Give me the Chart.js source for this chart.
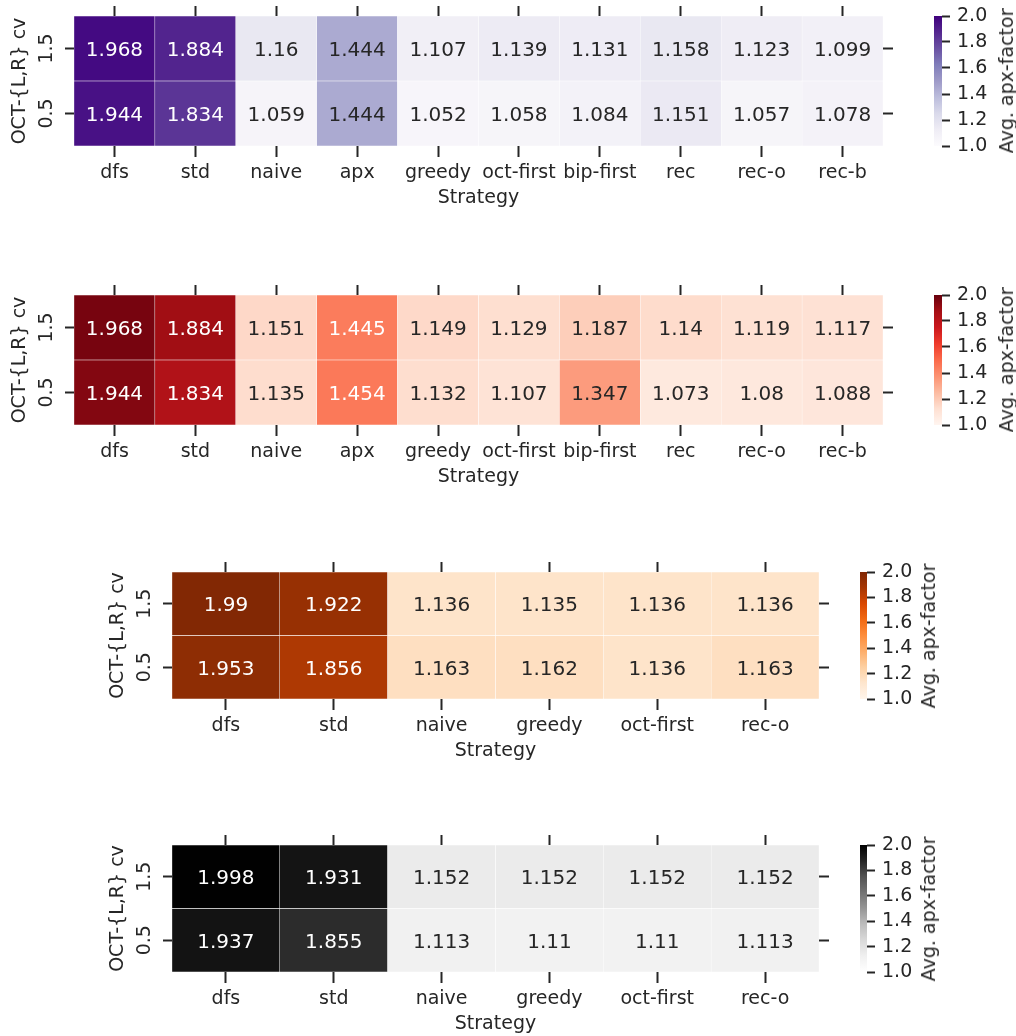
<!DOCTYPE html>
<html>
<head>
<meta charset="utf-8">
<script src="https://cdn.jsdelivr.net/npm/chart.js@4.4.0/dist/chart.umd.min.js"></script>
<style>
body { margin: 0; background: #ffffff; }
#page { position: relative; width: 1016px; height: 1036px; overflow: hidden; }
#page canvas { position: absolute; }
.cbtitle {
    position: absolute;
    font: 19px "DejaVu Sans";
    color: #262626;
    white-space: nowrap;
    transform: translate(-50%, -50%) rotate(-90deg);
}
</style>
</head>
<body>
<div id="page"></div>
<script>
// categories
let strategiesWide = ["dfs", "std", "naive", "apx", "greedy", "oct-first", "bip-first", "rec", "rec-o", "rec-b"];
let strategiesNarrow = ["dfs", "std", "naive", "greedy", "oct-first", "rec-o"];
let cvLevels = ["0.5", "1.5"]; // bottom row first

// values (avg. apx-factor)
let purples05 = [1.944, 1.834, 1.059, 1.444, 1.052, 1.058, 1.084, 1.151, 1.057, 1.078];
let purples15 = [1.968, 1.884, 1.16, 1.444, 1.107, 1.139, 1.131, 1.158, 1.123, 1.099];
let reds05 = [1.944, 1.834, 1.135, 1.454, 1.132, 1.107, 1.347, 1.073, 1.08, 1.088];
let reds15 = [1.968, 1.884, 1.151, 1.445, 1.149, 1.129, 1.187, 1.14, 1.119, 1.117];
let oranges05 = [1.953, 1.856, 1.163, 1.162, 1.136, 1.163];
let oranges15 = [1.99, 1.922, 1.136, 1.135, 1.136, 1.136];
let greys05 = [1.937, 1.855, 1.113, 1.11, 1.11, 1.113];
let greys15 = [1.998, 1.931, 1.152, 1.152, 1.152, 1.152];

// colorbar range
let cbMin = 1.0;
let cbMax = 2.0;
let cbStep = 0.2;

// matplotlib sequential colormaps (ColorBrewer 9 steps)
let purplesMap = ["#fcfbfd", "#efedf5", "#dadaeb", "#bcbddc", "#9e9ac8", "#807dba", "#6a51a3", "#54278f", "#3f007d"];
let redsMap = ["#fff5f0", "#fee0d2", "#fcbba1", "#fc9272", "#fb6a4a", "#ef3b2c", "#cb181d", "#a50f15", "#67000d"];
let orangesMap = ["#fff5eb", "#fee6ce", "#fdd0a2", "#fdae6b", "#fd8d3c", "#f16913", "#d94801", "#a63603", "#7f2704"];
let greysMap = ["#ffffff", "#f0f0f0", "#d9d9d9", "#bdbdbd", "#969696", "#737373", "#525252", "#252525", "#000000"];

let panels = [
    { strategies: strategiesWide, rows: [purples05, purples15], cmap: purplesMap,
      left: 74, right: 883, top: 16, bottom: 146, cbLeft: 934, cbRight: 942, cbTitleX: 1006 },
    { strategies: strategiesWide, rows: [reds05, reds15], cmap: redsMap,
      left: 74, right: 883, top: 295, bottom: 425, cbLeft: 934, cbRight: 942, cbTitleX: 1006 },
    { strategies: strategiesNarrow, rows: [oranges05, oranges15], cmap: orangesMap,
      left: 172, right: 819, top: 572, bottom: 699, cbLeft: 860, cbRight: 867, cbTitleX: 928 },
    { strategies: strategiesNarrow, rows: [greys05, greys15], cmap: greysMap,
      left: 172, right: 819, top: 845, bottom: 972, cbLeft: 860, cbRight: 867, cbTitleX: 928 }
];

let ink = "#262626";
Chart.defaults.font.family = "'DejaVu Sans'";
Chart.defaults.font.size = 19;
Chart.defaults.color = ink;

let page = document.getElementById("page");

function hexToRgb(h) {
    return [parseInt(h.substr(1, 2), 16), parseInt(h.substr(3, 2), 16), parseInt(h.substr(5, 2), 16)];
}

function cmapColor(cmap, v) {
    let t = (v - cbMin) / (cbMax - cbMin);
    t = Math.max(0, Math.min(1, t));
    let pos = t * (cmap.length - 1);
    let i = Math.min(Math.floor(pos), cmap.length - 2);
    let f = pos - i;
    let a = hexToRgb(cmap[i]);
    let b = hexToRgb(cmap[i + 1]);
    return [0, 1, 2].map(function (k) { return a[k] + (b[k] - a[k]) * f; });
}

function toCss(rgb) {
    return "rgb(" + rgb.map(Math.round).join(",") + ")";
}

// same rule as seaborn's annotation colour
function luminance(rgb) {
    let lin = rgb.map(function (c) {
        c = c / 255;
        return c <= 0.03928 ? c / 12.92 : Math.pow((c + 0.055) / 1.055, 2.4);
    });
    return 0.2126 * lin[0] + 0.7152 * lin[1] + 0.0722 * lin[2];
}

function makeCanvas(left, top, width, height) {
    let c = document.createElement("canvas");
    c.width = width;
    c.height = height;
    c.style.left = left + "px";
    c.style.top = top + "px";
    c.style.width = width + "px";
    c.style.height = height + "px";
    page.appendChild(c);
    return c.getContext("2d");
}

// Cell values
let cellLabels = {
    id: "cellLabels",
    afterDatasetsDraw: function (chart) {
        let g = chart.ctx;
        g.save();
        g.font = "20px 'DejaVu Sans'";
        g.textAlign = "center";
        g.textBaseline = "alphabetic";
        chart.data.datasets.forEach(function (ds, di) {
            chart.getDatasetMeta(di).data.forEach(function (bar, i) {
                let v = ds.data[i].v;
                g.fillStyle = luminance(cmapColor(ds.cmap, v)) > 0.408 ? ink : "#ffffff";
                g.fillText(String(Number(v.toPrecision(4))), bar.x, (bar.y + bar.base) / 2 + 7.5);
            });
        });
        g.restore();
    }
};

function tickGrid(len) {
    return { drawOnChartArea: false, offset: false, tickLength: len, tickWidth: 2, tickColor: ink };
}

let topH = 16, bottomH = 63, leftW = 74, rightW = 27;

panels.forEach(function (p) {
    // Heatmap
    let ctx = makeCanvas(p.left - leftW, p.top - topH,
        leftW + (p.right - p.left) + rightW, topH + (p.bottom - p.top) + bottomH);

    let datasets = p.rows.map(function (vals, r) {
        return {
            cmap: p.cmap,
            data: vals.map(function (v, i) { return { x: p.strategies[i], y: [r, r + 1], v: v }; }),
            backgroundColor: function (c) {
                return c.raw ? toCss(cmapColor(p.cmap, c.raw.v)) : "#ffffff";
            },
            borderColor: "#ffffff",
            borderWidth: 0.5,
            borderSkipped: false,
            grouped: false,
            barPercentage: 1,
            categoryPercentage: 1
        };
    });

    let rowTicks = function (s) {
        s.ticks = cvLevels.map(function (l, i) { return { value: i + 0.5 }; });
    };

    new Chart(ctx, {
        type: "bar",
        data: { labels: p.strategies, datasets: datasets },
        options: {
            responsive: false,
            animation: false,
            events: [],
            plugins: { legend: { display: false }, tooltip: { enabled: false } },
            scales: {
                x: {
                    type: "category", position: "bottom", offset: true,
                    grid: tickGrid(11), border: { display: false },
                    ticks: { padding: 5, autoSkip: false, maxRotation: 0 },
                    title: { display: true, text: "Strategy", padding: 0 },
                    afterFit: function (s) { s.height = bottomH; }
                },
                xTop: {
                    type: "category", position: "top", offset: true,
                    grid: tickGrid(10), border: { display: false },
                    ticks: { display: false, autoSkip: false },
                    afterFit: function (s) { s.height = topH; }
                },
                y: {
                    type: "linear", position: "left", min: 0, max: cvLevels.length,
                    afterBuildTicks: rowTicks,
                    grid: tickGrid(9), border: { display: false },
                    ticks: {
                        minRotation: 90, maxRotation: 90, crossAlign: "center", padding: 3,
                        callback: function (v, i) { return cvLevels[i]; }
                    },
                    title: { display: true, text: "OCT-{L,R} cv", padding: { top: 9, bottom: 0 } },
                    afterFit: function (s) { s.width = leftW; }
                },
                yRight: {
                    type: "linear", position: "right", min: 0, max: cvLevels.length,
                    afterBuildTicks: rowTicks,
                    grid: tickGrid(10), border: { display: false },
                    ticks: { display: false },
                    afterFit: function (s) { s.width = rightW; }
                }
            }
        },
        plugins: [cellLabels]
    });

    // Colorbar
    let cbPad = 30, cbAxisW = 70;
    let cctx = makeCanvas(p.cbLeft - 10, p.top - cbPad,
        10 + (p.cbRight - p.cbLeft) + cbAxisW, (p.bottom - p.top) + 2 * cbPad);

    new Chart(cctx, {
        type: "bar",
        data: {
            labels: [""],
            datasets: [{
                data: [[cbMin, cbMax]],
                backgroundColor: function (c) {
                    let a = c.chart.chartArea;
                    if (!a) return "#ffffff";
                    let grad = c.chart.ctx.createLinearGradient(0, a.bottom, 0, a.top);
                    p.cmap.forEach(function (col, k) { grad.addColorStop(k / (p.cmap.length - 1), col); });
                    return grad;
                },
                borderWidth: 0,
                barPercentage: 1,
                categoryPercentage: 1
            }]
        },
        options: {
            responsive: false,
            animation: false,
            events: [],
            layout: { padding: { left: 10, right: 0, top: cbPad, bottom: cbPad } },
            plugins: { legend: { display: false }, tooltip: { enabled: false } },
            scales: {
                x: { display: false },
                y: {
                    position: "right", min: cbMin, max: cbMax,
                    grid: { drawOnChartArea: false, tickLength: 8, tickWidth: 2, tickColor: ink },
                    border: { display: false },
                    ticks: {
                        stepSize: cbStep, padding: 7, autoSkip: false,
                        callback: function (v) { return v.toFixed(1); }
                    },
                    afterFit: function (s) { s.width = cbAxisW; }
                }
            }
        }
    });

    let t = document.createElement("div");
    t.className = "cbtitle";
    t.textContent = "Avg. apx-factor";
    t.style.left = p.cbTitleX + "px";
    t.style.top = ((p.top + p.bottom) / 2) + "px";
    page.appendChild(t);
});
</script>
</body>
</html>
